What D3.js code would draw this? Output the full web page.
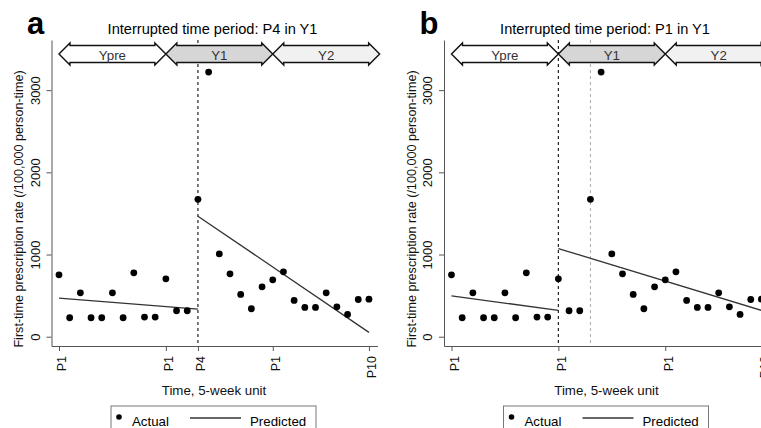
<!DOCTYPE html>
<html>
<head>
<meta charset="utf-8">
<script src="https://cdn.jsdelivr.net/npm/d3@7"></script>
<style>
  body { margin: 0; background: #fff; }
  svg { display: block; font-family: "Liberation Sans", Arial, sans-serif; }
</style>
</head>
<body>
<svg id="chart" width="761" height="428"></svg>
<script>
// Observed first-time prescription rates, one per 5-week period (Ypre P1 .. Y2 P10)
const actual = [753, 231, 534, 231, 231, 534, 231, 777, 239, 239,
                704, 316, 316, 1672, 3220, 1008, 765, 514, 340, 607,
                692, 789, 441, 356, 356, 534, 364, 271, 453, 457];

// Year bands across the time axis
const yearNames = ["Ypre", "Y1", "Y2"];
const yearStart = [0, 10, 20];
const yearEnd = [10, 20, 30];
const yearFill = ["#ffffff", "#d6d6d6", "#f1f1f1"];

const yTicks = [0, 1000, 2000, 3000];

// Panel a: interruption at P4 in Y1
const ticksA = [0, 10, 13, 20, 29];
const tickLabelsA = ["P1", "P1", "P4", "P1", "P10"];
const predPreIdxA = [0, 13];
const predPreA = [470, 336];
const predPostIdxA = [13, 29];
const predPostA = [1466, 53];

// Panel b: interruption at P1 in Y1
const ticksB = [0, 10, 20, 29];
const tickLabelsB = ["P1", "P1", "P1", "P10"];
const predPreIdxB = [0, 10];
const predPreB = [498, 320];
const predPostIdxB = [10, 29];
const predPostB = [1073, 320];

const panels = [
  { letter: "a", title: "Interrupted time period: P4 in Y1", dx: 0, cut: 13, ref: null,
    ticks: ticksA, labels: tickLabelsA,
    pre: [predPreIdxA, predPreA], post: [predPostIdxA, predPostA] },
  { letter: "b", title: "Interrupted time period: P1 in Y1", dx: 392.5, cut: 10, ref: 13,
    ticks: ticksB, labels: tickLabelsB,
    pre: [predPreIdxB, predPreB], post: [predPostIdxB, predPostB] }
];

const svg = d3.select("#chart");

const x = d3.scaleLinear().domain([-0.7, 29.8]).range([51.5, 377.5]);
const y = d3.scaleLinear().domain([-113, 3610]).range([346, 40]);

function drawPanel(p) {
  const g = svg.append("g").attr("transform", `translate(${p.dx},0)`);

  // panel letter and title
  g.append("text")
    .attr("x", 27).attr("y", 34)
    .attr("font-size", 31).attr("font-weight", "bold")
    .text(p.letter);
  g.append("text")
    .attr("x", 212.5).attr("y", 34)
    .attr("text-anchor", "middle").attr("font-size", 14.6)
    .text(p.title);

  // y axis
  const yAxis = g.append("g")
    .attr("transform", `translate(${x.range()[0]},0)`)
    .call(d3.axisLeft(y).tickValues(yTicks).tickFormat(d3.format("d"))
      .tickSize(5).tickSizeOuter(0));
  yAxis.select(".domain").attr("stroke", "#555");
  yAxis.selectAll(".tick line").attr("stroke", "#555");
  yAxis.selectAll(".tick text")
    .attr("x", null).attr("dy", null)
    .attr("transform", "translate(-12,0) rotate(-90)")
    .attr("text-anchor", "middle")
    .attr("font-size", 13)
    .attr("fill", "#111");

  // x axis
  const xAxis = g.append("g")
    .attr("transform", `translate(0,${y.range()[0]})`)
    .call(d3.axisBottom(x).tickValues(p.ticks)
      .tickFormat((d, i) => p.labels[i])
      .tickSize(5).tickSizeOuter(0));
  xAxis.select(".domain").attr("stroke", "#555");
  xAxis.selectAll(".tick line").attr("stroke", "#555");
  xAxis.selectAll(".tick text")
    .attr("y", null).attr("dy", "0.55em")
    .attr("transform", "translate(0,10) rotate(-90)")
    .attr("text-anchor", "end")
    .attr("font-size", 12.5)
    .attr("fill", "#111");

  // axis titles
  g.append("text")
    .attr("transform", "translate(23,209) rotate(-90)")
    .attr("text-anchor", "middle").attr("font-size", 12.6)
    .attr("fill", "#111")
    .text("First-time prescription rate (/100,000 person-time)");
  g.append("text")
    .attr("x", 214).attr("y", 395)
    .attr("text-anchor", "middle").attr("font-size", 13.3)
    .attr("fill", "#111")
    .text("Time, 5-week unit");

  // reference lines
  if (p.ref !== null) {
    g.append("line")
      .attr("x1", x(p.ref)).attr("x2", x(p.ref))
      .attr("y1", y.range()[1]).attr("y2", y.range()[0])
      .attr("stroke", "#aaa").attr("stroke-width", 1)
      .attr("stroke-dasharray", "3,3");
  }
  g.append("line")
    .attr("x1", x(p.cut)).attr("x2", x(p.cut))
    .attr("y1", y.range()[1]).attr("y2", y.range()[0])
    .attr("stroke", "#222").attr("stroke-width", 1.2)
    .attr("stroke-dasharray", "3,3");

  // year arrows
  const c = 54, hb = 8.5, hh = 11, hl = 11;
  yearNames.forEach((name, i) => {
    const x0 = x(yearStart[i]), x1 = x(yearEnd[i]);
    const pts = [
      [x0, c], [x0 + hl, c - hh], [x0 + hl, c - hb], [x1 - hl, c - hb], [x1 - hl, c - hh],
      [x1, c], [x1 - hl, c + hh], [x1 - hl, c + hb], [x0 + hl, c + hb], [x0 + hl, c + hh]
    ];
    g.append("path")
      .attr("d", "M" + pts.join("L") + "Z")
      .attr("fill", yearFill[i])
      .attr("stroke", "#111").attr("stroke-width", 1.4)
      .attr("stroke-linejoin", "miter");
    g.append("text")
      .attr("x", (x0 + x1) / 2).attr("y", 59.5)
      .attr("text-anchor", "middle").attr("font-size", 13.3)
      .attr("fill", "#333")
      .text(name);
  });

  // predicted segments
  const line = d3.line().x(d => x(d[0])).y(d => y(d[1]));
  [p.pre, p.post].forEach(seg => {
    g.append("path")
      .datum(d3.zip(seg[0], seg[1]))
      .attr("d", line)
      .attr("fill", "none")
      .attr("stroke", "#333").attr("stroke-width", 1.3);
  });

  // actual points
  g.selectAll(".dot")
    .data(actual)
    .enter()
    .append("circle")
    .attr("class", "dot")
    .attr("cx", (d, i) => x(i))
    .attr("cy", d => y(d))
    .attr("r", 3.4)
    .attr("fill", "#000");

  // legend
  const lg = g.append("g");
  lg.append("rect")
    .attr("x", 111).attr("y", 406).attr("width", 205).attr("height", 40)
    .attr("fill", "#fff").attr("stroke", "#777").attr("stroke-width", 1);
  lg.append("circle").attr("cx", 119).attr("cy", 417).attr("r", 2.8).attr("fill", "#000");
  lg.append("text").attr("x", 132).attr("y", 425.5).attr("font-size", 13.3).text("Actual");
  lg.append("line")
    .attr("x1", 190).attr("x2", 241).attr("y1", 418).attr("y2", 418)
    .attr("stroke", "#333").attr("stroke-width", 1.3);
  lg.append("text").attr("x", 250).attr("y", 425.5).attr("font-size", 13.3).text("Predicted");
}

panels.forEach(drawPanel);
</script>
</body>
</html>
